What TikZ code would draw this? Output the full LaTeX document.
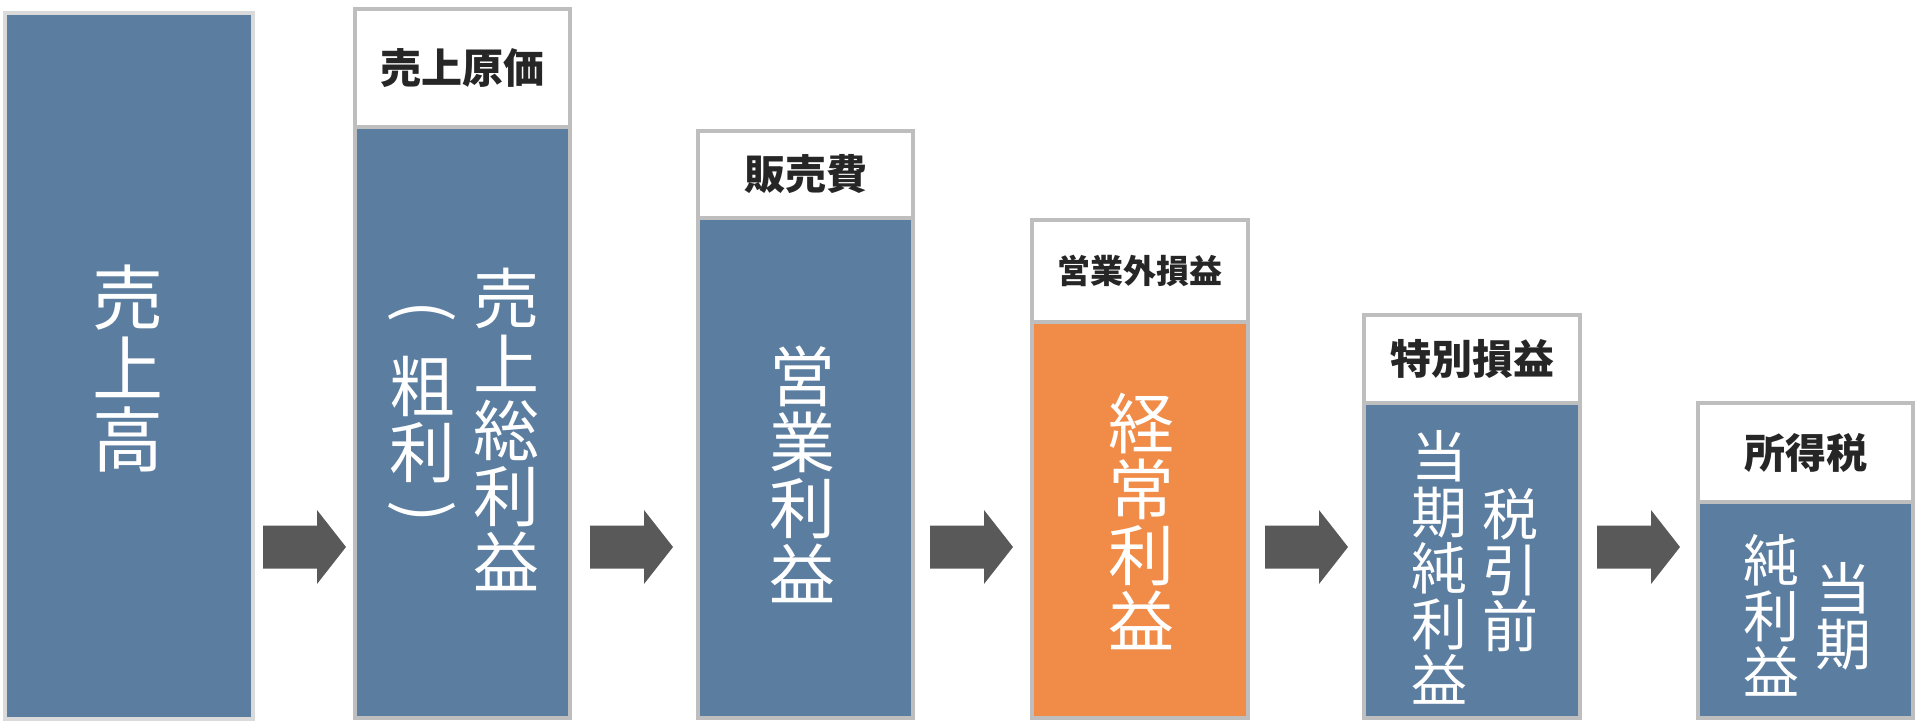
\documentclass[tikz,border=0pt]{standalone}
\usepackage{fontspec}
\usepackage{graphicx}
\newfontfamily\jp{Noto Sans CJK JP}
\definecolor{bodyblue}{HTML}{5B7DA0}
\definecolor{bodyorange}{HTML}{F08C47}
\definecolor{edgegray}{HTML}{BEBEBE}
\definecolor{edgelight}{HTML}{DADADA}
\definecolor{arrowgray}{HTML}{595959}
\definecolor{headtext}{HTML}{262626}
\newcommand\vtfont[1]{\jp\fontsize{#1pt}{#1pt}\selectfont}
\tikzset{
  blk/.style={rectangle, inner sep=0pt, outer sep=0pt, line width=4pt, draw=edgegray},
  bodybox/.style={blk, fill=bodyblue},
  orangebox/.style={blk, fill=bodyorange},
  headbox/.style={blk, fill=white, text=headtext, font=\jp\bfseries\fontsize{41pt}{41pt}\selectfont},
  vtext/.style={inner sep=0pt, outer sep=0pt, align=center, text=white, font=\vtfont{#1}},
  blockarrow/.style={fill=arrowgray},
}
\begin{document}
\begin{tikzpicture}[x=1pt,y=-1pt]
\useasboundingbox (0,0) rectangle (1920,724);
% box 1
\node[bodybox, draw=edgelight, minimum width=248pt, minimum height=706pt] (b1) at (129,366) {};
\node[vtext=71] (t1) at (127.5,368.5) {売\\上\\高};
% box 2
\node[bodybox, minimum width=215pt, minimum height=591pt] (b2) at (462.5,422.5) {};
\node[headbox, minimum width=215pt, minimum height=118pt] (h2) at (462.5,68) {売上原価};
\node[vtext=66, anchor=north] (t2a) at (506,268) {売\\上\\総\\利\\益};
\node[vtext=66] (p1) at (422,316) {\rotatebox[origin=c]{-90}{(}};
\node[vtext=66] (t2b) at (422,420) {粗\\利};
\node[vtext=66] (p2) at (422,516) {\rotatebox[origin=c]{-90}{)}};
% box 3
\node[bodybox, minimum width=215pt, minimum height=500pt] (b3) at (805.5,468) {};
\node[headbox, minimum width=215pt, minimum height=87pt] (h3) at (805.5,174.5) {販売費};
\node[vtext=66] (t3) at (802,474) {営\\業\\利\\益};
% box 4
\node[orangebox, minimum width=216pt, minimum height=396pt] (b4) at (1140,520) {};
\node[headbox, font=\jp\bfseries\fontsize{33pt}{33pt}\selectfont, minimum width=216pt, minimum height=102pt] (h4) at (1140,271) {営業外損益};
\node[vtext=66] (t4) at (1141,521) {経\\常\\利\\益};
% box 5
\node[bodybox, minimum width=216pt, minimum height=315pt] (b5) at (1472,560.5) {};
\node[headbox, minimum width=216pt, minimum height=88pt] (h5) at (1472,359) {特別損益};
\node[vtext=56] (t5a) at (1510,570) {税\\引\\前};
\node[vtext=56] (t5b) at (1439,567) {当\\期\\純\\利\\益};
% box 6
\node[bodybox, minimum width=215pt, minimum height=216pt] (b6) at (1805.5,610) {};
\node[headbox, minimum width=215pt, minimum height=99pt] (h6) at (1805.5,452.5) {所得税};
\node[vtext=56] (t6a) at (1843,616) {当\\期};
\node[vtext=56] (t6b) at (1771,615) {純\\利\\益};
% arrows
\foreach \n/\x in {1/263,2/590,3/930,4/1265,5/1597}{
  \coordinate (a\n) at (\x,547);
  \fill[blockarrow] (a\n) ++(0,-21.5) -- ++(54,0) -- ++(0,-15.5) -- ++(29,37)
    -- ++(-29,37) -- ++(0,-15.5) -- ++(-54,0) -- cycle;
}
\end{tikzpicture}
\end{document}
